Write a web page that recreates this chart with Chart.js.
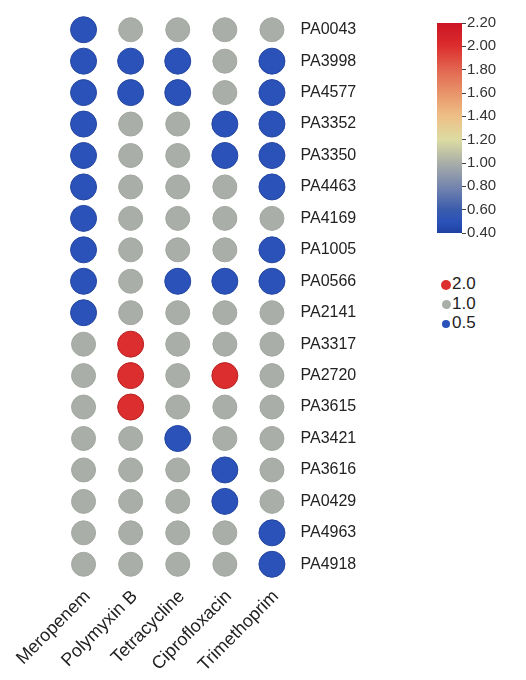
<!DOCTYPE html>
<html>
<head>
<meta charset="utf-8">
<script src="https://cdn.jsdelivr.net/npm/chart.js@4.4.1/dist/chart.umd.min.js"></script>
<style>
  body { margin: 0; background: #fff; font-family: "Liberation Sans", Arial, sans-serif; }
  #wrap { position: relative; width: 526px; height: 680px; }
  #main { position: absolute; left: 0; top: 0; }
  #bar { position: absolute; left: 420px; top: 0; }
  #sizes { position: absolute; left: 440px; top: 274px; font-size: 17px; color: #222; }
  #sizes div { height: 19.5px; line-height: 19.5px; white-space: nowrap; }
  #sizes span.dot { display: inline-block; width: 12px; text-align: center; vertical-align: middle; }
  #sizes span.dot i { display: inline-block; border-radius: 50%; vertical-align: middle; }
</style>
</head>
<body>
<div id="wrap">
  <canvas id="main" width="420" height="680"></canvas>
  <canvas id="bar" width="106" height="260"></canvas>
  <div id="sizes"></div>
</div>
<script>
const drugs = ['Meropenem', 'Polymyxin B', 'Tetracycline', 'Ciprofloxacin', 'Trimethoprim']
const genes = ['PA0043', 'PA3998', 'PA4577', 'PA3352', 'PA3350', 'PA4463', 'PA4169', 'PA1005', 'PA0566',
    'PA2141', 'PA3317', 'PA2720', 'PA3615', 'PA3421', 'PA3616', 'PA0429', 'PA4963', 'PA4918']

// one array per drug, one value per gene (fold change)
const meropenem = [0.5, 0.5, 0.5, 0.5, 0.5, 0.5, 0.5, 0.5, 0.5, 0.5, 1, 1, 1, 1, 1, 1, 1, 1]
const polymyxinB = [1, 0.5, 0.5, 1, 1, 1, 1, 1, 1, 1, 2, 2, 2, 1, 1, 1, 1, 1]
const tetracycline = [1, 0.5, 0.5, 1, 1, 1, 1, 1, 0.5, 1, 1, 1, 1, 0.5, 1, 1, 1, 1]
const ciprofloxacin = [1, 1, 1, 0.5, 0.5, 1, 1, 1, 0.5, 1, 1, 2, 1, 1, 0.5, 0.5, 1, 1]
const trimethoprim = [1, 0.5, 0.5, 0.5, 0.5, 0.5, 1, 0.5, 0.5, 1, 1, 1, 1, 1, 1, 1, 0.5, 0.5]

const scaleTicks = [0.4, 0.6, 0.8, 1.0, 1.2, 1.4, 1.6, 1.8, 2.0, 2.2]
const sizeLevels = [2.0, 1.0, 0.5]

const columns = [meropenem, polymyxinB, tetracycline, ciprofloxacin, trimethoprim]
const lo = scaleTicks[0], hi = scaleTicks[scaleTicks.length - 1]

// colour ramp of the colour bar
const stops = [
    [0.4, '#1f42a2'], [0.5, '#2a52b8'], [0.6, '#3b5cac'], [0.8, '#7686ae'], [1.0, '#a9aea8'],
    [1.2, '#dcdca2'], [1.4, '#eebf86'], [1.6, '#e8946a'], [1.8, '#e26650'], [2.0, '#dc2e2e'], [2.2, '#cc1424']
]

function hex(c) { return [1, 3, 5].map(i => parseInt(c.substr(i, 2), 16)) }
function colorFor(v) {
    for (let i = 1; i < stops.length; i++) {
        if (v <= stops[i][0]) {
            const [v0, c0] = stops[i - 1], [v1, c1] = stops[i]
            const t = (v - v0) / (v1 - v0)
            const a = hex(c0), b = hex(c1)
            return 'rgb(' + a.map((x, k) => Math.round(x + (b[k] - x) * t)).join(',') + ')'
        }
    }
    return stops[stops.length - 1][1]
}
function radiusFor(v) { return v < 1 ? 13 : (v > 1 ? 13 : 12) }

const points = []
columns.forEach((col, i) => {
    col.forEach((v, j) => points.push({ x: drugs[i], y: genes[j], r: radiusFor(v), v: v }))
})

Chart.defaults.font.family = '"Liberation Sans", Arial, sans-serif'
Chart.defaults.color = '#222'

new Chart(document.getElementById('main'), {
    type: 'bubble',
    data: {
        datasets: [{
            data: points,
            backgroundColor: ctx => colorFor(ctx.raw.v),
            borderColor: ctx => ctx.raw.v < 1 ? '#2546a0' : (ctx.raw.v > 1 ? '#b82020' : '#a2a8a0'),
            borderWidth: 1
        }]
    },
    options: {
        responsive: false,
        animation: false,
        layout: { padding: { left: 60, top: 14, right: 0, bottom: 0 } },
        plugins: { legend: { display: false }, tooltip: { enabled: false } },
        scales: {
            x: {
                type: 'category',
                labels: drugs,
                offset: true,
                grid: { display: false },
                border: { display: false },
                ticks: { font: { size: 18 }, minRotation: 45, maxRotation: 45, padding: -2, labelOffset: 4 },
                afterFit: s => { s.height = 100 }
            },
            y: {
                type: 'category',
                labels: genes,
                position: 'right',
                offset: true,
                grid: { display: false },
                border: { display: false },
                ticks: { font: { size: 16 }, padding: -3 },
                afterFit: s => { s.width = 124.5 }
            }
        }
    }
})

new Chart(document.getElementById('bar'), {
    type: 'bar',
    data: {
        labels: ['scale'],
        datasets: [{
            data: [[lo, hi]],
            barPercentage: 1,
            categoryPercentage: 1,
            backgroundColor: ctx => {
                const chart = ctx.chart
                if (!chart.chartArea) return '#aaa'
                const y = chart.scales.y
                const g = chart.ctx.createLinearGradient(0, y.getPixelForValue(lo), 0, y.getPixelForValue(hi))
                stops.forEach(([v, c]) => g.addColorStop(Math.min(1, Math.max(0, (v - lo) / (hi - lo))), c))
                return g
            }
        }]
    },
    options: {
        responsive: false,
        animation: false,
        layout: { padding: { left: 17, top: 23, right: 0, bottom: 27 } },
        plugins: { legend: { display: false }, tooltip: { enabled: false } },
        scales: {
            x: { display: false },
            y: {
                position: 'right',
                min: lo,
                max: hi,
                grid: { drawOnChartArea: false, drawTicks: true, tickLength: 4, color: '#444' },
                border: { display: false },
                ticks: {
                    stepSize: 0.2,
                    padding: 1,
                    font: { size: 15 },
                    color: '#333',
                    callback: v => v.toFixed(2)
                },
                afterFit: s => { s.width = 64 }
            }
        }
    }
})

// size legend
document.getElementById('sizes').innerHTML = sizeLevels.map(v => {
    const d = v > 1 ? 10 : (v < 1 ? 8 : 9)
    return `<div><span class="dot"><i style="width:${d}px;height:${d}px;background:${colorFor(v)}"></i></span>${v.toFixed(1)}</div>`
}).join('')
</script>
</body>
</html>
